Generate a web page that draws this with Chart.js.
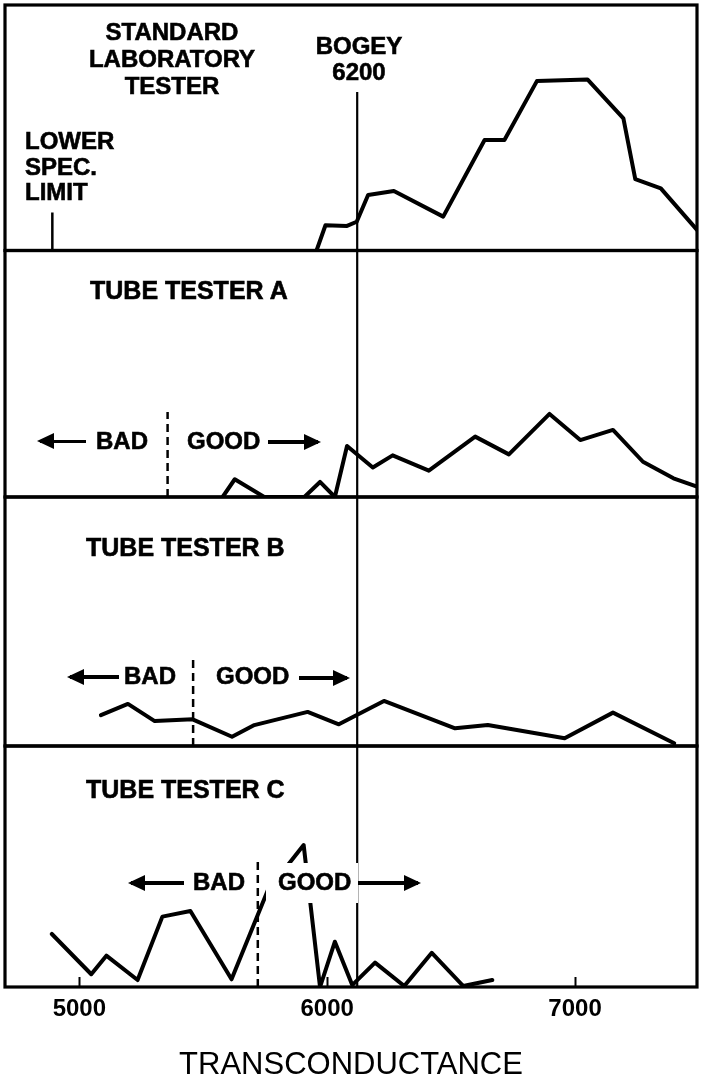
<!DOCTYPE html>
<html>
<head>
<meta charset="utf-8">
<script src="https://cdn.jsdelivr.net/npm/chart.js@4.4.0/dist/chart.umd.min.js"></script>
<style>
  html, body { margin: 0; padding: 0; background: #fff; overflow: hidden; }
  #page { position: relative; width: 703px; height: 1078px; }
  canvas { position: absolute; left: 0; }
  .lbl {
    position: absolute; color: #000; white-space: nowrap;
    font-family: "Liberation Sans", Arial, sans-serif; font-weight: bold;
    font-size: 24px; line-height: 26px;
    -webkit-text-stroke: 0.6px #000;
  }
  .tube { font-size: 25px; }
  .arrow { position: absolute; height: 3.5px; background: #000; }
  .arrow::before {
    content: ""; position: absolute; top: -6.25px;
    border-top: 8px solid transparent; border-bottom: 8px solid transparent;
  }
  .arrow.left::before { left: -3px; border-right: 17px solid #000; }
  .arrow.right::before { right: -3px; border-left: 17px solid #000; }
</style>
</head>
<body>
<div id="page">
  <canvas id="lab" width="703" height="254" style="top:0"></canvas>
  <canvas id="testerA" width="703" height="254" style="top:247px"></canvas>
  <canvas id="testerB" width="703" height="257" style="top:493px"></canvas>
  <canvas id="testerC" width="703" height="342" style="top:742px"></canvas>

  <!-- panel 1 -->
  <div class="lbl" style="left:72px;top:18px;width:200px;text-align:center;line-height:27px">STANDARD<br>LABORATORY<br>TESTER</div>
  <div class="lbl" style="left:259px;top:33px;width:200px;text-align:center">BOGEY<br>6200</div>
  <div class="lbl" style="left:25px;top:128px;line-height:25.5px">LOWER<br>SPEC.<br>LIMIT</div>

  <!-- panel A -->
  <div class="lbl tube" style="left:90px;top:277px">TUBE TESTER A</div>
  <div class="arrow left" style="left:40px;top:439.5px;width:46px"></div>
  <div class="lbl" style="left:96px;top:428px">BAD</div>
  <div class="lbl" style="left:187px;top:428px">GOOD</div>
  <div class="arrow right" style="left:268px;top:440px;width:50px"></div>

  <!-- panel B -->
  <div class="lbl tube" style="left:86px;top:534px">TUBE TESTER B</div>
  <div class="arrow left" style="left:70px;top:675px;width:49px"></div>
  <div class="lbl" style="left:124px;top:663px">BAD</div>
  <div class="lbl" style="left:216px;top:663px">GOOD</div>
  <div class="arrow right" style="left:299px;top:676px;width:48px"></div>

  <!-- panel C -->
  <div class="lbl tube" style="left:86px;top:776px">TUBE TESTER C</div>
  <div class="arrow left" style="left:131px;top:881px;width:53px"></div>
  <div class="lbl" style="left:193px;top:869px">BAD</div>
  <div class="lbl" style="left:266px;top:863px;width:92px;height:40px;box-sizing:border-box;padding:6px 0 0 12px;background:#fff">GOOD</div>
  <div class="arrow right" style="left:358px;top:881px;width:60px"></div>
</div>

<script>
// x in transconductance units, y as percent of panel height
const xMin = 4700;
const xMax = 7492;
const tickValues = [5000, 6000, 7000];

const bogeyX = 6121;
const bogeyTop = [64.6, 100, 100, 100];
const lowerSpecX = 4891;
const lowerSpecTop = 15.5;

// BAD | GOOD split for each tube tester
const cutX = [5356, 5459, 5720];
const cutTop = [34.5, 35.9, 52.0];

const labX = [5957, 5993, 6080, 6119, 6165, 6269, 6468, 6635, 6715, 6846, 7050, 7195, 7243, 7346, 7492];
const labY = [0, 10.3, 10.0, 11.7, 22.6, 24.2, 13.8, 45.0, 45.0, 69.0, 69.7, 53.8, 29.1, 25.3, 8.4];

const testerAX = [5578, 5627, 5746, 5908, 5971, 6031, 6080, 6184, 6264, 6410, 6597, 6733, 6897, 7021, 7153, 7274, 7397, 7492];
const testerAY = [0, 7.2, 0, 0, 6.1, 0, 20.7, 12.0, 16.9, 10.7, 24.5, 17.3, 33.7, 23.1, 27.2, 14.3, 7.6, 4.2];

const testerBX = [5087, 5196, 5304, 5457, 5616, 5706, 5921, 6047, 6229, 6516, 6648, 6958, 7153, 7400];
const testerBY = [12.4, 16.9, 10.0, 10.7, 3.7, 8.4, 13.7, 8.7, 18.1, 7.1, 8.4, 3.1, 13.4, 1.1];

const testerCX = [4889, 5048, 5109, 5235, 5335, 5448, 5614, 5760, 5905, 5971, 6031, 6101, 6193, 6311, 6422, 6549, 6666];
const testerCY = [22.0, 5.3, 13.0, 2.9, 29.2, 31.5, 3.2, 40.0, 58.9, 0, 18.8, 0.8, 10.1, 0.4, 14.2, 0.4, 2.9];

const trace = (xs, ys) => ({
  data: xs.map((x, i) => ({ x, y: ys[i] })),
  borderColor: '#000', borderWidth: 4, pointRadius: 0, tension: 0,
  borderJoinStyle: 'round', borderCapStyle: 'round', fill: false,
});

const rule = (x, top, extra) => Object.assign({
  data: [{ x, y: 0 }, { x, y: top }],
  borderColor: '#000', borderWidth: 2.2, pointRadius: 0, fill: false,
}, extra);

const dashed = { borderDash: [8, 5], borderWidth: 2.5 };

// box round each panel
const frame = {
  id: 'frame',
  afterDatasetsDraw(chart) {
    const { ctx, chartArea: a } = chart;
    ctx.save();
    ctx.strokeStyle = '#000';
    ctx.lineWidth = 3.2;
    ctx.strokeRect(a.left, a.top, a.right - a.left, a.bottom - a.top);
    ctx.restore();
  },
};

const font = 'Liberation Sans';

function panel(id, datasets, pad, withAxis) {
  const x = { type: 'linear', min: xMin, max: xMax, display: false };
  if (withAxis) {
    Object.assign(x, {
      display: true,
      afterBuildTicks: s => { s.ticks = tickValues.map(value => ({ value })); },
      afterFit: s => { s.height = 97; },
      border: { display: false },
      grid: { drawOnChartArea: false, drawTicks: true, tickLength: -10, tickWidth: 2, color: '#000', tickColor: '#000' },
      ticks: {
        padding: 17.5, color: '#000', maxRotation: 0, autoSkip: false,
        font: { family: font, size: 24, weight: 'bold' },
        callback: v => String(v),
      },
      title: {
        display: true, text: 'TRANSCONDUCTANCE', color: '#000', padding: 0,
        font: { family: font, size: 31, weight: 'normal' },
      },
    });
  }
  return new Chart(document.getElementById(id), {
    type: 'line',
    data: { datasets },
    options: {
      responsive: false,
      animation: false,
      events: [],
      layout: { autoPadding: false, padding: Object.assign({ left: 5, right: 6 }, pad) },
      plugins: { legend: { display: false }, tooltip: { enabled: false } },
      scales: { x, y: { min: 0, max: 100, display: false } },
    },
    plugins: [frame],
  });
}

panel('lab', [
  trace(labX, labY),
  rule(bogeyX, bogeyTop[0]),
  rule(lowerSpecX, lowerSpecTop, { borderWidth: 2.5 }),
], { top: 5, bottom: 3.5 });

panel('testerA', [
  trace(testerAX, testerAY),
  rule(bogeyX, bogeyTop[1]),
  rule(cutX[0], cutTop[0], dashed),
], { top: 3.5, bottom: 4 });

panel('testerB', [
  trace(testerBX, testerBY),
  rule(bogeyX, bogeyTop[2]),
  rule(cutX[1], cutTop[1], dashed),
], { top: 4, bottom: 4 });

panel('testerC', [
  trace(testerCX, testerCY),
  rule(bogeyX, bogeyTop[3]),
  rule(cutX[2], cutTop[2], dashed),
], { top: 4, bottom: 0 }, true);
</script>
</body>
</html>
